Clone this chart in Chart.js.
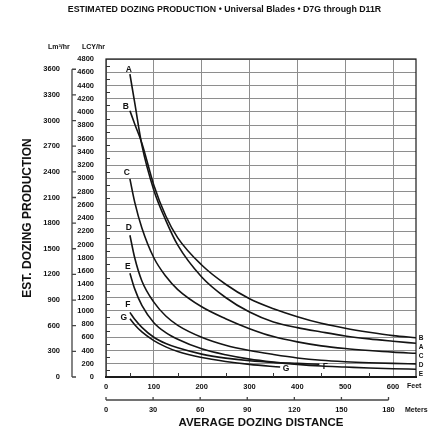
<!DOCTYPE html>
<html>
<head>
<meta charset="utf-8">
<script src="https://cdn.jsdelivr.net/npm/chart.js@4.4.1/dist/chart.umd.min.js"></script>
<style>
  html, body { margin: 0; padding: 0; background: #fff; }
  #wrap { width: 437px; height: 433px; }
</style>
</head>
<body>
<div id="wrap"><canvas id="chart" width="437" height="433"></canvas></div>
<script>
// curve letters and the production (LCY/hr) against distance (ft)
const curveNames = ["A", "B", "C", "D", "E", "F", "G"];
const distFt = [50, 60, 75, 100, 125, 150, 200, 250, 300, 350, 400, 450, 500, 550, 600, 648];
const prodA = [4570, 4140, 3500, 2820, 2365, 1990, 1510, 1200, 980, 830, 745, 680, 620, 575, 540, 509];
const prodB = [4020, 3820, 3530, 2895, 2430, 2100, 1690, 1400, 1180, 1030, 910, 810, 735, 675, 625, 593];
const prodC = [2990, 2640, 2250, 1800, 1520, 1320, 1060, 880, 730, 610, 530, 470, 430, 400, 375, 358];
const prodD = [2140, 1800, 1450, 1130, 920, 780, 600, 480, 400, 340, 288, 252, 230, 215, 205, 198];
const prodE = [1565, 1330, 1080, 820, 670, 570, 425, 335, 270, 225, 190, 165, 150, 135, 125, 118];
const distF = [50, 60, 75, 100, 125, 150, 200, 250, 300, 350, 400, 446];
const prodF = [975, 870, 750, 600, 505, 440, 345, 285, 245, 220, 205, 192];
const distG = [50, 60, 75, 100, 125, 150, 200, 250, 300, 364];
const prodG = [880, 790, 680, 550, 455, 385, 295, 235, 190, 150];

// tick labels
const feetTicks = [0, 100, 200, 300, 400, 500, 600];
const meterTicks = [0, 30, 60, 90, 120, 150, 180];
const lcyTicks = [0, 200, 400, 600, 800, 1000, 1200, 1400, 1600, 1800, 2000, 2200, 2400,
  2600, 2800, 3000, 3200, 3400, 3600, 3800, 4000, 4200, 4400, 4600, 4800];
const m3Ticks = [0, 300, 600, 900, 1200, 1500, 1800, 2100, 2400, 2700, 3000, 3300, 3600];

const FT_MAX = 648;
const SANS = '"Liberation Sans", Arial, sans-serif';
const GRID = "#8e8e8e";

const series = [
  [distFt, prodA], [distFt, prodB], [distFt, prodC], [distFt, prodD],
  [distFt, prodE], [distF, prodF], [distG, prodG]
];

const datasets = series.map(([xs, ys], i) => ({
  label: curveNames[i],
  data: xs.map((x, j) => ({ x: x, y: ys[j] })),
  borderColor: "#141414",
  borderWidth: 1.6,
  pointRadius: 0,
  fill: false,
  cubicInterpolationMode: "monotone"
}));

// letter offsets next to the curve starts (px)
const startOffsets = { A: [-1, -5], B: [-4, -4], C: [-3, -6], D: [-1, -8], E: [-2, -7], F: [-2, -8], G: [-6, -1] };

const extras = {
  id: "extras",
  afterDraw(chart) {
    const { ctx, chartArea: a, scales } = chart;
    const x = scales.x, y = scales.y, ym = scales.ym, xm = scales.xm;
    ctx.save();

    // frame
    ctx.strokeStyle = "#1a1a1a";
    ctx.lineWidth = 1.2;
    ctx.strokeRect(a.left, a.top, a.right - a.left, a.bottom - a.top);
    ctx.lineWidth = 1.8;
    ctx.beginPath();
    ctx.moveTo(a.left - 1, a.bottom);
    ctx.lineTo(a.right + 1, a.bottom);
    ctx.stroke();

    // minor ticks inside the plot
    ctx.lineWidth = 1;
    ctx.strokeStyle = "#333";
    ctx.beginPath();
    for (let v = 100; v < 4800; v += 200) {
      const py = Math.round(y.getPixelForValue(v)) + 0.5;
      ctx.moveTo(a.left, py);
      ctx.lineTo(a.left + 4, py);
    }
    for (let v = 50; v < FT_MAX; v += 100) {
      const px = Math.round(x.getPixelForValue(v)) + 0.5;
      ctx.moveTo(px, a.bottom);
      ctx.lineTo(px, a.bottom - 4);
    }
    ctx.stroke();

    // metric production axis
    const mx = ym.right + 2;
    ctx.strokeStyle = "#444";
    ctx.lineWidth = 1.3;
    ctx.beginPath();
    ctx.moveTo(mx, ym.getPixelForValue(3600));
    ctx.lineTo(mx, ym.getPixelForValue(0));
    m3Ticks.forEach(v => {
      const py = ym.getPixelForValue(v);
      ctx.moveTo(mx, py);
      ctx.lineTo(mx + 4, py);
    });
    ctx.stroke();

    // metric distance axis
    const my = 400;
    ctx.beginPath();
    ctx.moveTo(xm.getPixelForValue(0), my);
    ctx.lineTo(xm.getPixelForValue(180), my);
    meterTicks.forEach(v => {
      const px = xm.getPixelForValue(v);
      ctx.moveTo(px, my);
      ctx.lineTo(px, my - 3);
    });
    ctx.stroke();

    ctx.fillStyle = "#111";
    ctx.textBaseline = "middle";

    // unit labels
    ctx.font = "bold 7px " + SANS;
    ctx.textAlign = "left";
    ctx.fillText("Feet", 407, 386.5);
    ctx.fillText("Meters", 405, 410);
    ctx.fillText("Lm\u00B3/hr", 48, 47);
    ctx.fillText("LCY/hr", 82, 47);

    // heading
    ctx.font = "bold 8.8px " + SANS;
    ctx.textAlign = "center";
    ctx.fillText("ESTIMATED DOZING PRODUCTION \u2022 Universal Blades \u2022 D7G through D11R", 224.5, 10);

    // curve letters at the start
    ctx.font = "bold 8.5px " + SANS;
    chart.data.datasets.forEach(ds => {
      const p = ds.data[0];
      const o = startOffsets[ds.label];
      ctx.fillText(ds.label, x.getPixelForValue(p.x) + o[0], y.getPixelForValue(p.y) + o[1]);
    });

    // letters at the ends of F and G
    ["F", "G"].forEach(name => {
      const ds = chart.data.datasets.find(d => d.label === name);
      const p = ds.data[ds.data.length - 1];
      ctx.fillText(name, x.getPixelForValue(p.x) + 6, y.getPixelForValue(p.y) + 2);
    });

    // stacked letters at the right edge for curves that reach it
    ctx.font = "bold 6.5px " + SANS;
    const ends = chart.data.datasets
      .filter(d => d.data[d.data.length - 1].x >= FT_MAX)
      .map(d => ({ name: d.label, py: y.getPixelForValue(d.data[d.data.length - 1].y) }))
      .sort((p, q) => p.py - q.py);
    let last = -Infinity;
    ends.forEach(e => {
      const py = Math.max(e.py, last + 9);
      last = py;
      ctx.fillText(e.name, a.right + 5, py);
    });

    ctx.restore();
  }
};

const tickFont = { family: SANS, size: 7.5, weight: "bold" };
const plain = v => String(v);

new Chart(document.getElementById("chart"), {
  type: "line",
  data: { datasets: datasets },
  options: {
    responsive: false,
    animation: false,
    devicePixelRatio: 1,
    layout: { padding: { left: 18, right: 21, top: 59, bottom: 0 } },
    plugins: { legend: { display: false }, tooltip: { enabled: false }, title: { display: false } },
    scales: {
      x: {
        type: "linear", position: "bottom", weight: 0,
        min: 0, max: FT_MAX,
        afterBuildTicks: s => { s.ticks = feetTicks.map(v => ({ value: v })); },
        afterFit: s => { s.height = 18; },
        grid: { color: GRID, lineWidth: 1, drawTicks: false },
        border: { display: false },
        ticks: { font: tickFont, color: "#111", padding: 5, maxRotation: 0, callback: plain }
      },
      xm: {
        type: "linear", position: "bottom", weight: 1,
        min: 0, max: FT_MAX * 0.3048,
        afterBuildTicks: s => { s.ticks = meterTicks.map(v => ({ value: v })); },
        afterFit: s => { s.height = 38; },
        grid: { display: false, drawTicks: false },
        border: { display: false },
        ticks: { font: tickFont, color: "#111", padding: 10.5, maxRotation: 0, callback: plain },
        title: {
          display: true, text: "AVERAGE DOZING DISTANCE", color: "#111",
          font: { family: SANS, size: 11.5, weight: "bold" }, padding: { top: 0, bottom: 3 }
        }
      },
      y: {
        type: "linear", position: "left", weight: 0,
        min: 0, max: 4800,
        afterBuildTicks: s => { s.ticks = lcyTicks.map(v => ({ value: v })); },
        afterFit: s => { s.width = 36; },
        grid: { color: GRID, lineWidth: 1, drawTicks: false },
        border: { display: false },
        ticks: { font: tickFont, color: "#111", padding: 12, callback: plain }
      },
      ym: {
        type: "linear", position: "left", weight: 1,
        min: 0, max: 3720,
        afterBuildTicks: s => { s.ticks = m3Ticks.map(v => ({ value: v })); },
        afterFit: s => { s.width = 52; },
        grid: { display: false, drawTicks: false },
        border: { display: false },
        ticks: { font: tickFont, color: "#111", padding: 10, callback: plain },
        title: {
          display: true, text: "EST. DOZING PRODUCTION", color: "#111",
          font: { family: SANS, size: 12, weight: "bold" }, padding: { top: 2, bottom: 0 }
        }
      }
    }
  },
  plugins: [extras]
});
</script>
</body>
</html>
